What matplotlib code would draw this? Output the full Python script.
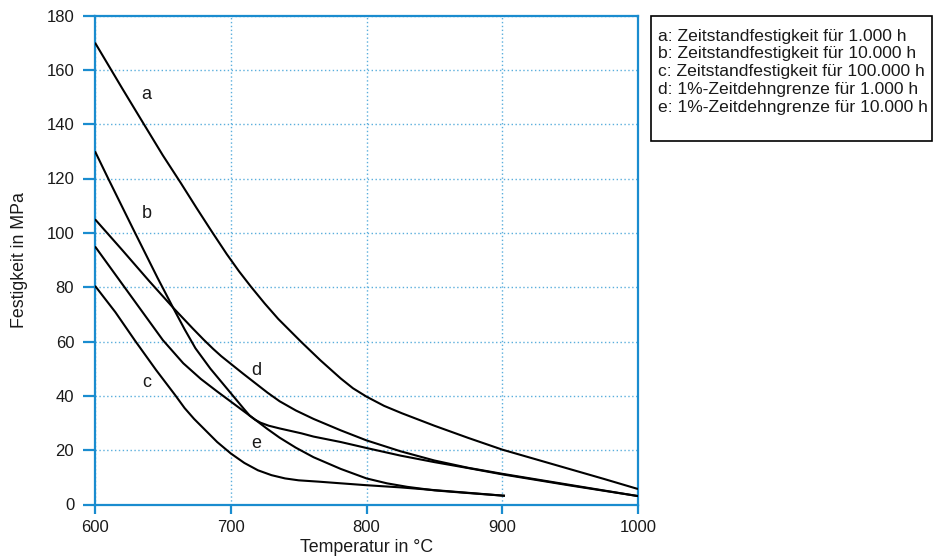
import matplotlib
matplotlib.use("Agg")
import matplotlib.pyplot as plt
from matplotlib.patches import Rectangle

plt.rcParams["font.family"] = ["Liberation Sans", "DejaVu Sans"]

# ── Data ─────────────────────────────────────────────────────────────────────
temp_a = [600, 620, 636, 650, 663, 675, 686, 697, 706, 715, 725, 735, 744, 752,
          766, 781, 790, 800, 813, 826, 850, 875, 900, 925, 950, 975, 1000]
stress_a = [170, 153.2, 140, 128.5, 118.5, 109, 100.5, 92.2, 85.9, 80.1, 74, 68.3, 63.8, 59.8,
            53.1, 46.4, 42.8, 39.7, 36.3, 33.6, 29, 24.5, 20.2, 16.6, 13, 9.4, 5.7]

temp_b = [600, 610, 628, 646, 658, 666, 674, 685, 700, 707, 710, 714, 718, 722, 728,
          736, 752, 761, 781, 800, 825, 850, 875, 900, 950, 1000]
stress_b = [130, 119.7, 101.5, 83.5, 72, 64.5, 57.5, 50, 41, 36.8, 35, 32.7, 31.2, 30.1, 29,
            28, 26.2, 25, 23, 20.8, 18, 15.6, 13.4, 11.1, 7.0, 3.1]

temp_c = [600, 615, 629.5, 645, 659, 666, 673, 680, 690, 700, 710, 720, 730, 740,
          750, 765, 781, 800, 825, 850, 875, 902]
stress_c = [80.5, 70.8, 60.3, 49.5, 40.3, 35.5, 31.5, 28, 23, 18.8, 15.3, 12.6, 10.8, 9.6,
            8.9, 8.4, 7.8, 7.1, 6.3, 5.3, 4.3, 3.2]

temp_d = [600, 620, 640, 658, 672, 680, 687, 693, 700, 709, 718, 727, 736, 748,
          761, 781, 800, 825, 850, 875, 900, 950, 1000]
stress_d = [105, 93.7, 82.2, 72.2, 64.8, 60.7, 57.3, 54.6, 51.8, 48.2, 44.7, 41.2, 38, 34.6,
            31.5, 27.3, 23.6, 19.6, 16.2, 13.5, 11.3, 7.2, 3.1]

temp_e = [600, 621, 650, 665, 678, 690, 700, 718, 727, 736, 748, 761, 781, 800,
          815, 830, 850, 870, 902]
stress_e = [95, 80.5, 60.5, 52, 46.2, 41.6, 37.9, 31.2, 27.8, 24.6, 20.9, 17.4, 13.1, 9.6,
            7.8, 6.5, 5.2, 4.4, 3.2]

curve_keys = ["a", "b", "c", "d", "e"]
curve_label_pos = [(638, 151), (638, 107), (638, 45), (719, 49.5), (719, 22.5)]

legend_lines = [
    "a: Zeitstandfestigkeit für 1.000 h",
    "b: Zeitstandfestigkeit für 10.000 h",
    "c: Zeitstandfestigkeit für 100.000 h",
    "d: 1%-Zeitdehngrenze für 1.000 h",
    "e: 1%-Zeitdehngrenze für 10.000 h",
]

x_ticks = [600, 700, 800, 900, 1000]
y_ticks = [0, 20, 40, 60, 80, 100, 120, 140, 160, 180]

BLUE = "#1a8ccf"
GRID = "#5aaedc"
TEXT = "#1a1a1a"

# ── Figure ───────────────────────────────────────────────────────────────────
W, H = 934, 556
fig = plt.figure(figsize=(W / 100, H / 100), dpi=100)
ax = fig.add_axes([95 / W, 1 - 504.5 / H, (638 - 95) / W, (504.5 - 15.5) / H])

series = [(temp_a, stress_a), (temp_b, stress_b), (temp_c, stress_c),
          (temp_d, stress_d), (temp_e, stress_e)]
for (t, s) in series:
    ax.plot(t, s, color="black", linewidth=1.5, solid_capstyle="butt",
            solid_joinstyle="round", zorder=3)

for key, (lx, ly) in zip(curve_keys, curve_label_pos):
    ax.text(lx, ly, key, fontsize=13, color=TEXT, ha="center", va="center", zorder=4)

ax.set_xlim(600, 1000)
ax.set_ylim(0, 180)
ax.set_xticks(x_ticks)
ax.set_yticks(y_ticks)
ax.grid(True, color=GRID, linestyle=(0, (1, 1.8)), linewidth=1.0)
ax.set_axisbelow(True)

for sp in ax.spines.values():
    sp.set_color(BLUE)
    sp.set_linewidth(1.6)

ax.tick_params(axis="both", direction="out", color=BLUE, width=1.6,
               labelsize=12, labelcolor=TEXT)
ax.tick_params(axis="y", length=9, pad=6)
ax.tick_params(axis="x", length=6.5, pad=4.5)

ax.set_xlabel("Temperatur in °C", fontsize=12.8, color=TEXT, labelpad=3)
ax.set_ylabel("Festigkeit in MPa", fontsize=12.8, color=TEXT, labelpad=13)

# ── Legend box (figure pixels) ───────────────────────────────────────────────
box_x0, box_x1, box_top, box_bot = 650.5, 931.5, 15.7, 141
fig.patches.append(Rectangle((box_x0 / W, 1 - box_bot / H),
                             (box_x1 - box_x0) / W, (box_bot - box_top) / H,
                             transform=fig.transFigure, fill=False,
                             edgecolor="black", linewidth=1.2))
for i, line in enumerate(legend_lines):
    base = 40.7 + i * 17.75
    fig.text(658 / W, 1 - base / H, line, fontsize=12.6, color=TEXT,
             ha="left", va="baseline")

fig.savefig("out.png", dpi=100)
